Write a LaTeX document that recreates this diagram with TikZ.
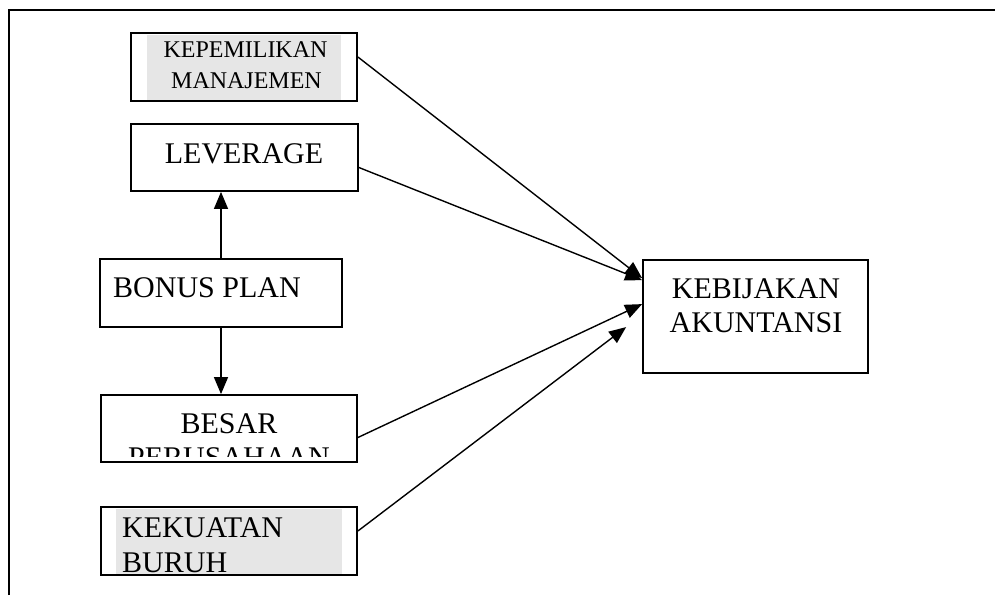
\documentclass[tikz,border=0pt]{standalone}
\usepackage{fontspec}
\setmainfont{Liberation Serif}
\usetikzlibrary{arrows.meta,calc}
\definecolor{textbg}{HTML}{E6E6E6}
\tikzset{
  box/.style={draw, line width=1.8pt, inner sep=0pt},
  lbl/.style={inner sep=0pt, anchor=base, font=\fontsize{30}{34.5}\selectfont},
  smalllbl/.style={inner sep=0pt, anchor=base, font=\fontsize{24}{28}\selectfont},
  link/.style={line width=1.4pt, -{Triangle[length=17pt,width=14pt]}}
}
\begin{document}
\begin{tikzpicture}[x=1pt,y=-1pt]
  \useasboundingbox (0,0) rectangle (995,595);
  % outer frame
  \draw[line width=2pt] (9,595) -- (9,10) -- (995,10);

  % boxes
  \node[box, minimum width=226pt, minimum height=68pt] (kep) at (244,67) {};
  \node[box, minimum width=227pt, minimum height=67pt] (lev) at (244.5,157.5) {};
  \node[box, minimum width=242pt, minimum height=68pt] (bon) at (221,293) {};
  \node[box, minimum width=256pt, minimum height=67pt] (bes) at (229,428.5) {};
  \node[box, minimum width=256pt, minimum height=68pt] (kek) at (229,541) {};
  \node[box, minimum width=225pt, minimum height=113pt] (keb) at (755.5,316.5) {};

  % grey text backgrounds
  \fill[textbg] (147,35) rectangle (341,99.5);
  \fill[textbg] (116,509) rectangle (342,574);

  % labels
  \node[smalllbl] (kepA) at (245.5,57) {KEPEMILIKAN};
  \node[smalllbl] (kepB) at (246.5,88) {MANAJEMEN};
  \node[lbl] (levA) at (244,163) {LEVERAGE};
  \node[lbl, anchor=base west] (bonA) at (113,297) {BONUS PLAN};
  \node[lbl] (besA) at (229,433) {BESAR};
  \begin{scope}
    \clip (bes.north west) rectangle ([yshift=6pt]bes.south east);
    \node[lbl] (besB) at (229,467) {PERUSAHAAN};
  \end{scope}
  \node[lbl, anchor=base west] (kekA) at (122,537) {KEKUATAN};
  \node[lbl, anchor=base west] (kekB) at (122,572) {BURUH};
  \node[lbl] (kebA) at (756,298) {KEBIJAKAN};
  \node[lbl] (kebB) at (756,332) {AKUNTANSI};

  % connectors
  \draw[link] (bon.north) -- (bon.north |- lev.south);
  \draw[link] (bon.south) -- (bon.south |- bes.north);
  \draw[link] ([yshift=10pt]kep.east) -- ([yshift=-19pt]keb.north west);
  \draw[link] ([yshift=-10pt]lev.east) -- ([yshift=-21pt]keb.north west);
  \draw[link] ([yshift=-9pt]bes.east) -- ([yshift=-45pt]keb.north west);
  \draw[link] ([yshift=10pt]kek.east) -- ($(keb.north west)+(-16,68)$);
\end{tikzpicture}
\end{document}
